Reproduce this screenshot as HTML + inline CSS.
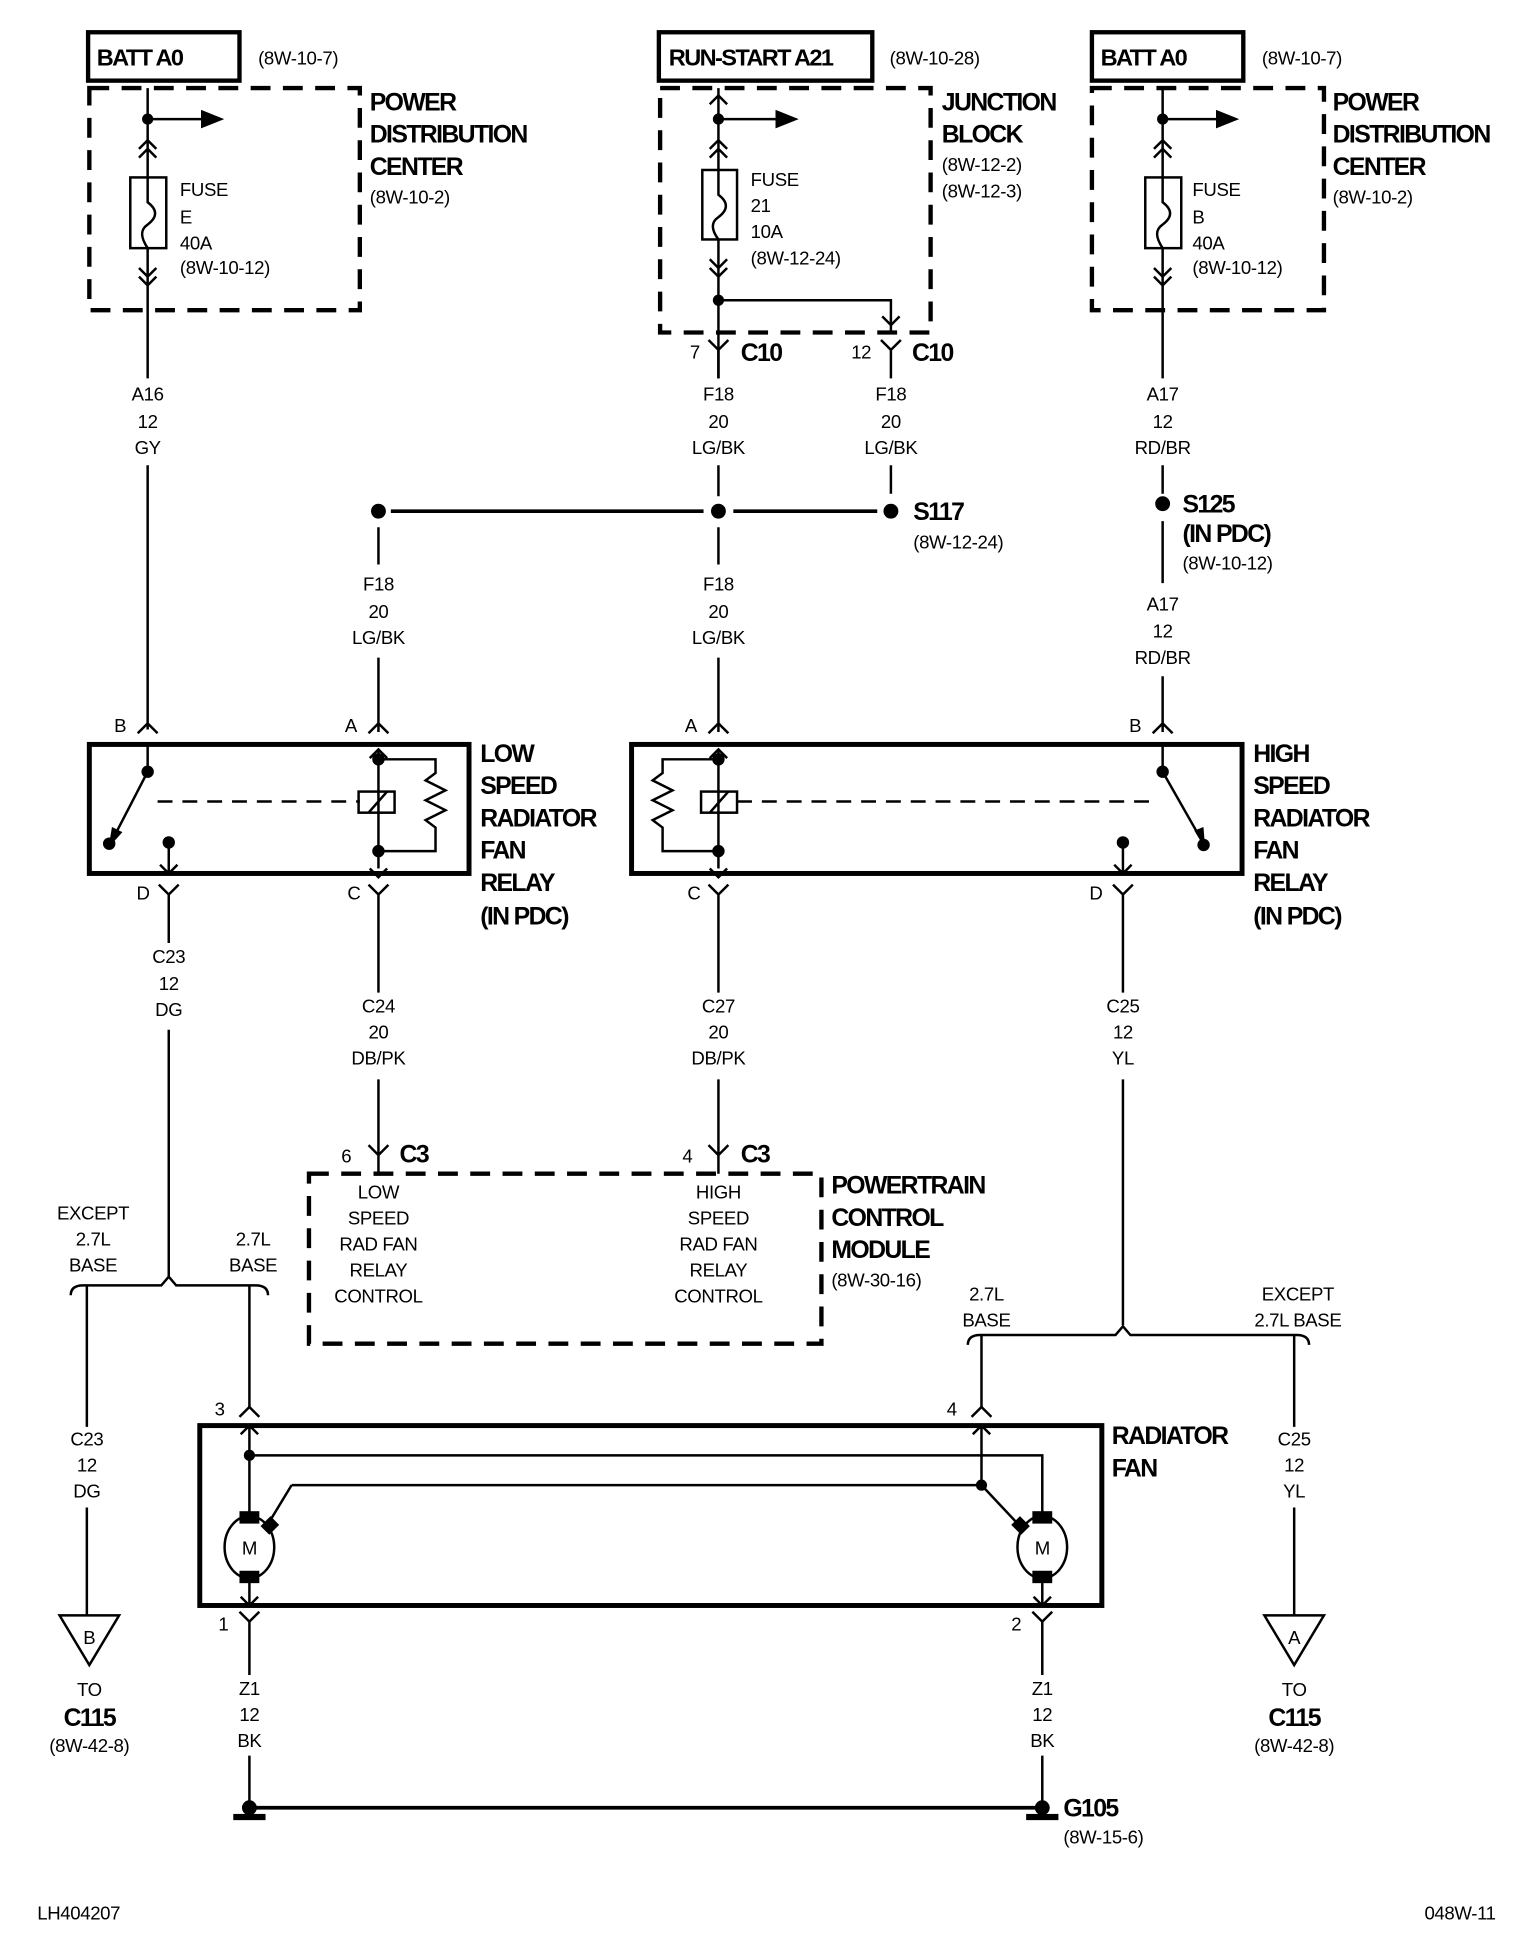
<!DOCTYPE html>
<html><head><meta charset="utf-8"><style>
html,body{margin:0;padding:0;background:#fff}
svg{display:block}
text{font-family:"Liberation Sans",Arial,sans-serif;fill:#000}
.s{font-size:15px;letter-spacing:-0.3px}
.b{font-size:20px;font-weight:bold;letter-spacing:-1.3px}
.m{text-anchor:middle}
</style></head><body>
<svg width="1520" height="1938" viewBox="0 0 1225 1562" preserveAspectRatio="none" xmlns="http://www.w3.org/2000/svg">
<g fill="none" stroke="#000" stroke-width="2">
<rect x="71" y="26" width="122" height="39" stroke-width="3.5"/>
<rect x="531" y="26" width="172" height="39" stroke-width="3.5"/>
<rect x="880" y="26" width="122" height="39" stroke-width="3.5"/>
<g stroke-width="3.5" stroke-dasharray="16,10">
<rect x="72" y="71" width="218" height="179"/>
<rect x="532" y="71" width="218" height="197"/>
<rect x="880" y="71" width="187" height="179"/>
<rect x="249" y="946" width="413" height="137"/>
</g>
<path d="M119 71V305M119 375V588"/>
<path d="M119 96H165"/><path d="M163 90l15 6-15 6z" fill="#000"/>
<path d="M112 120l7-7 7 7M112 127l7-7 7 7M112 216l7 7 7-7M112 223l7 7 7-7"/>
<rect x="105" y="143" width="29" height="57" fill="#fff"/>
<path d="M119 143v20c8 6 8 12 0 18c-6 4-6 10 0 19" />
<path d="M579 71V305M579 375V400M579 425V455M579 530V590"/>
<path d="M579 96H628"/><path d="M626 90l15 6-15 6z" fill="#000"/>
<path d="M572 84l7-7 7 7M572 120l7-7 7 7M572 127l7-7 7 7M572 209l7 7 7-7M572 216l7 7 7-7"/>
<rect x="566" y="137" width="28" height="56" fill="#fff"/>
<path d="M579 137v20c8 6 8 12 0 18c-6 4-6 10 0 18"/>
<path d="M579 242H718V268M711 255l7 7 7-7"/>
<path d="M571 274l8 8 8-8M579 282V305M710 274l8 8 8-8M718 282V305M718 375V398"/>
<path d="M937 71V305M937 375V398M937 420V470M937 545V590"/>
<path d="M937 96H983"/><path d="M981 90l15 6-15 6z" fill="#000"/>
<path d="M930 120l7-7 7 7M930 127l7-7 7 7M930 216l7 7 7-7M930 223l7 7 7-7"/>
<rect x="923" y="143" width="29" height="57" fill="#fff"/>
<path d="M937 143v20c8 6 8 12 0 18c-6 4-6 10 0 19"/>
<path d="M315 412H567M591 412H707" stroke-width="3"/>
<path d="M305 425V455M305 530V590"/>
<rect x="72" y="600" width="306" height="104" stroke-width="4"/>
<path d="M111 591l8-8 8 8M297 591l8-8 8 8M119 600V622M119 622L89 680"/>
<path d="M91 668l-2 12 8-9z" fill="#000"/>
<path d="M127 646H290" stroke-dasharray="12,8"/>
<rect x="289" y="638" width="29" height="17"/>
<path d="M297 655l15-17"/>
<path d="M305 604V700M298 611l7-7 7 7M298 700l7 7 7-7M305 612H351V623l-8 6 16 8-16 8 16 8-16 8 8 6V686H305"/>
<path d="M136 678V704M129 697l7 7 7-7"/>
<path d="M128 713l8 8 8-8M136 721V760M136 830V1030M297 713l8 8 8-8M305 721V800M305 870V930M297 923l8 8 8-8M305 931V946"/>
<rect x="509" y="600" width="492" height="104" stroke-width="4"/>
<path d="M571 591l8-8 8 8M929 591l8-8 8 8M937 600V622M937 622L970 680"/>
<path d="M964 670l6 10-1-12z" fill="#000"/>
<path d="M594 646H932" stroke-dasharray="12,8"/>
<rect x="565" y="638" width="29" height="17"/>
<path d="M572 655l15-17"/>
<path d="M579 604V700M572 611l7-7 7 7M572 700l7 7 7-7M579 612H534V623l-8 6 16 8-16 8 16 8-16 8 8 6V686H579"/>
<path d="M905 678V704M898 697l7 7 7-7"/>
<path d="M571 713l8 8 8-8M579 721V800M579 870V930M571 923l8 8 8-8M579 931V946"/>
<path d="M897 713l8 8 8-8M905 721V800M905 870V1068"/>
<path d="M57 1044c0-5 3-8 10-8H130l6-7 6 7H206c7 0 10 3 10 8"/>
<path d="M70 1036V1150M70 1215V1302M201 1036V1135"/>
<path d="M780 1084c0-5 3-8 10-8H899l6-7 6 7H1045c7 0 10 3 10 8"/>
<path d="M791 1076V1135M1043 1076V1150M1043 1215V1302"/>
<path d="M48 1302H96L72 1342Z"/>
<path d="M1019 1302H1067L1043 1342Z"/>
<rect x="161" y="1149" width="727" height="145" stroke-width="4"/>
<path d="M193 1142l8-8 8 8M783 1142l8-8 8 8"/>
<path d="M201 1149V1222M194 1156l7-7 7 7M791 1149V1197M784 1156l7-7 7 7"/>
<path d="M201 1173H840V1222M235 1197H791M235 1197L215 1230M791 1197L822 1230"/>
<ellipse cx="201" cy="1247" rx="20" ry="25" fill="#fff"/>
<ellipse cx="840" cy="1247" rx="20" ry="25" fill="#fff"/>
<path d="M201 1272V1294M194 1287l7 7 7-7M840 1272V1294M833 1287l7 7 7-7"/>
<path d="M193 1299l8 8 8-8M201 1307V1350M201 1415V1457M832 1299l8 8 8-8M840 1307V1350M840 1415V1457"/>
<path d="M201 1457H840" stroke-width="3"/>
</g>
<g fill="#000">
<circle cx="119" cy="96" r="4.5"/><circle cx="579" cy="96" r="4.5"/><circle cx="937" cy="96" r="4.5"/>
<circle cx="579" cy="242" r="4.5"/>
<circle cx="305" cy="412" r="6"/><circle cx="579" cy="412" r="6"/><circle cx="718" cy="412" r="6"/>
<circle cx="937" cy="406" r="6"/>
<circle cx="119" cy="622" r="5"/><circle cx="88" cy="680" r="5"/><circle cx="136" cy="679" r="5"/>
<circle cx="305" cy="612" r="5"/><circle cx="305" cy="686" r="5"/>
<circle cx="937" cy="622" r="5"/><circle cx="970" cy="681" r="5"/><circle cx="905" cy="679" r="5"/>
<circle cx="579" cy="612" r="5"/><circle cx="579" cy="686" r="5"/>
<circle cx="201" cy="1173" r="4.5"/><circle cx="791" cy="1197" r="4.5"/>
<rect x="193" y="1218" width="16" height="10"/><rect x="193" y="1266" width="16" height="10"/>
<rect x="832" y="1218" width="16" height="10"/><rect x="832" y="1266" width="16" height="10"/>
<path d="M210 1230l8-8 7 7-8 8z"/><path d="M830 1230l-8-8-7 7 8 8z"/>
<circle cx="201" cy="1457" r="6"/><rect x="188" y="1462" width="26" height="5"/>
<circle cx="840" cy="1457" r="6"/><rect x="827" y="1462" width="26" height="5"/>
</g>
<g class="b" style="font-size:19px">
<text x="78" y="53">BATT A0</text>
<text x="539" y="53">RUN-START A21</text>
<text x="887" y="53">BATT A0</text>
</g>
<g class="s">
<text x="208" y="52">(8W-10-7)</text><text x="717" y="52">(8W-10-28)</text><text x="1017" y="52">(8W-10-7)</text>
<text x="145" y="158">FUSE</text><text x="145" y="180">E</text><text x="145" y="201">40A</text><text x="145" y="221">(8W-10-12)</text>
<text x="605" y="150">FUSE</text><text x="605" y="171">21</text><text x="605" y="192">10A</text><text x="605" y="213">(8W-12-24)</text>
<text x="961" y="158">FUSE</text><text x="961" y="180">B</text><text x="961" y="201">40A</text><text x="961" y="221">(8W-10-12)</text>
<text x="298" y="164">(8W-10-2)</text><text x="759" y="138">(8W-12-2)</text><text x="759" y="159">(8W-12-3)</text><text x="1074" y="164">(8W-10-2)</text>
<text x="556" y="289">7</text><text x="686" y="289">12</text>
<g class="m">
<text x="119" y="323">A16</text><text x="119" y="345">12</text><text x="119" y="366">GY</text>
<text x="579" y="323">F18</text><text x="579" y="345">20</text><text x="579" y="366">LG/BK</text>
<text x="718" y="323">F18</text><text x="718" y="345">20</text><text x="718" y="366">LG/BK</text>
<text x="937" y="323">A17</text><text x="937" y="345">12</text><text x="937" y="366">RD/BR</text>
<text x="305" y="476">F18</text><text x="305" y="498">20</text><text x="305" y="519">LG/BK</text>
<text x="579" y="476">F18</text><text x="579" y="498">20</text><text x="579" y="519">LG/BK</text>
<text x="937" y="492">A17</text><text x="937" y="514">12</text><text x="937" y="535">RD/BR</text>
<text x="136" y="776">C23</text><text x="136" y="798">12</text><text x="136" y="819">DG</text>
<text x="305" y="816">C24</text><text x="305" y="837">20</text><text x="305" y="858">DB/PK</text>
<text x="579" y="816">C27</text><text x="579" y="837">20</text><text x="579" y="858">DB/PK</text>
<text x="905" y="816">C25</text><text x="905" y="837">12</text><text x="905" y="858">YL</text>
<text x="305" y="966">LOW</text><text x="305" y="987">SPEED</text><text x="305" y="1008">RAD FAN</text><text x="305" y="1029">RELAY</text><text x="305" y="1050">CONTROL</text>
<text x="579" y="966">HIGH</text><text x="579" y="987">SPEED</text><text x="579" y="1008">RAD FAN</text><text x="579" y="1029">RELAY</text><text x="579" y="1050">CONTROL</text>
<text x="75" y="983">EXCEPT</text><text x="75" y="1004">2.7L</text><text x="75" y="1025">BASE</text>
<text x="204" y="1004">2.7L</text><text x="204" y="1025">BASE</text>
<text x="795" y="1048">2.7L</text><text x="795" y="1069">BASE</text>
<text x="1046" y="1048">EXCEPT</text><text x="1046" y="1069">2.7L BASE</text>
<text x="70" y="1165">C23</text><text x="70" y="1186">12</text><text x="70" y="1207">DG</text>
<text x="1043" y="1165">C25</text><text x="1043" y="1186">12</text><text x="1043" y="1207">YL</text>
<text x="72" y="1325">B</text><text x="1043" y="1325">A</text>
<text x="72" y="1367">TO</text><text x="72" y="1412">(8W-42-8)</text>
<text x="1043" y="1367">TO</text><text x="1043" y="1412">(8W-42-8)</text>
<text x="201" y="1366">Z1</text><text x="201" y="1387">12</text><text x="201" y="1408">BK</text>
<text x="840" y="1366">Z1</text><text x="840" y="1387">12</text><text x="840" y="1408">BK</text>
<text x="201" y="1253">M</text><text x="840" y="1253">M</text>
</g>
<text x="736" y="442">(8W-12-24)</text><text x="953" y="459">(8W-10-12)</text>
<text x="92" y="590">B</text><text x="278" y="590">A</text><text x="110" y="725">D</text><text x="280" y="725">C</text>
<text x="552" y="590">A</text><text x="910" y="590">B</text><text x="554" y="725">C</text><text x="878" y="725">D</text>
<text x="275" y="937">6</text><text x="550" y="937">4</text>
<text x="670" y="1037">(8W-30-16)</text>
<text x="173" y="1141">3</text><text x="763" y="1141">4</text>
<text x="176" y="1314">1</text><text x="815" y="1314">2</text>
<text x="857" y="1486">(8W-15-6)</text>
<text x="30" y="1547">LH404207</text><text x="1148" y="1547">048W-11</text>
</g>
<g class="b">
<text x="298" y="89">POWER</text><text x="298" y="115">DISTRIBUTION</text><text x="298" y="141">CENTER</text>
<text x="759" y="89">JUNCTION</text><text x="759" y="115">BLOCK</text>
<text x="1074" y="89">POWER</text><text x="1074" y="115">DISTRIBUTION</text><text x="1074" y="141">CENTER</text>
<text x="597" y="291">C10</text><text x="735" y="291">C10</text>
<text x="736" y="419">S117</text>
<text x="953" y="413">S125</text><text x="953" y="437">(IN PDC)</text>
<text x="387" y="614">LOW</text><text x="387" y="640">SPEED</text><text x="387" y="666">RADIATOR</text><text x="387" y="692">FAN</text><text x="387" y="718">RELAY</text><text x="387" y="745">(IN PDC)</text>
<text x="1010" y="614">HIGH</text><text x="1010" y="640">SPEED</text><text x="1010" y="666">RADIATOR</text><text x="1010" y="692">FAN</text><text x="1010" y="718">RELAY</text><text x="1010" y="745">(IN PDC)</text>
<text x="322" y="937">C3</text><text x="597" y="937">C3</text>
<text x="670" y="962">POWERTRAIN</text><text x="670" y="988">CONTROL</text><text x="670" y="1014">MODULE</text>
<text x="896" y="1164">RADIATOR</text><text x="896" y="1190">FAN</text>
<text x="72" y="1391" class="m">C115</text><text x="1043" y="1391" class="m">C115</text>
<text x="857" y="1464">G105</text>
</g>
</svg>
</body></html>
